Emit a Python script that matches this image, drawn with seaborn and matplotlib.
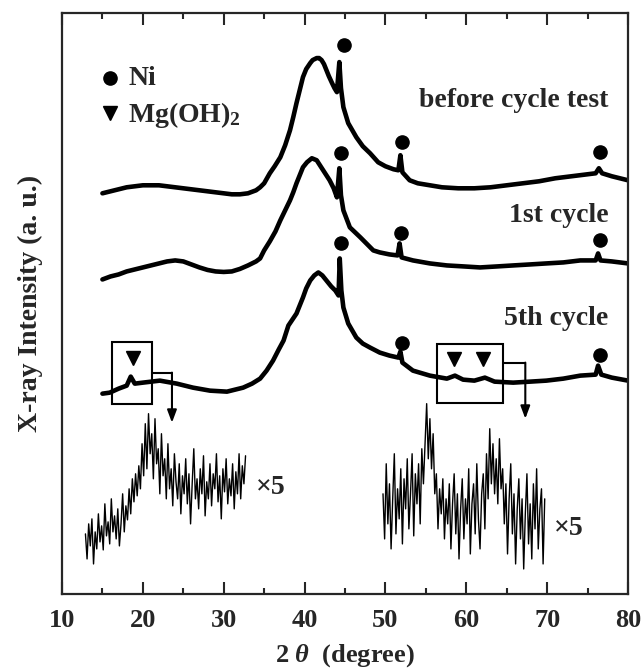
import numpy as np
import pandas as pd
import matplotlib
matplotlib.use("Agg")
import matplotlib.pyplot as plt
import seaborn as sns
from matplotlib.patches import Rectangle

# ---------------- data (2theta in degree, intensity in a.u.) ----------------
tt_before = [15, 16, 17, 18, 19, 20, 21, 22, 23, 24, 25, 26, 27, 28, 29, 30, 31, 32, 33, 34,
             34.5, 35.0, 35.7, 36.3, 37.0, 37.6, 38.2, 38.6, 39.0, 39.4, 39.8, 40.2, 40.7, 41.0,
             41.5, 41.8, 42.1, 42.4, 42.7, 43.0, 43.4, 43.7, 44.0, 44.3, 44.5,
             44.8, 45.4, 46.4, 47.2, 48.1, 49.1, 50, 51, 51.6, 51.85, 52.1, 53, 54, 55.5, 57, 59, 61,
             63, 65, 67, 69, 71, 73, 75, 76.0, 76.4, 76.8, 78, 80]
I_before = [400, 402, 404, 406, 407, 408, 408, 408, 407, 406, 405, 404, 403, 402, 401, 400, 399, 399, 400, 403,
            406, 410, 420, 427, 436, 448, 463, 476, 490, 503, 516, 524, 530, 533,
            535, 535, 533, 529, 523, 517, 510, 505, 501, 531, 505,
            486, 470, 456, 447, 440, 431, 427, 424, 423, 438, 421, 413, 410, 408, 406, 405, 405,
            406, 408, 410, 412, 415, 417, 419, 420, 425, 420, 417, 413]

tt_1st = [15, 16, 17, 18, 19, 20, 21, 22, 23, 24, 25, 26, 27, 28, 29, 30, 31, 32, 33, 34,
          34.5, 35.0, 35.7, 36.4, 37.0, 37.6, 38.2, 38.6, 39.0, 39.4, 39.8, 40.3, 40.9, 41.5, 41.9,
          42.3, 43.1, 43.6, 44.0, 44.3, 44.5, 44.8, 45.6,
          46.9, 48.5, 49.3, 50.5, 51.5, 51.75, 52.0, 53.4, 55.5, 57.6, 59.7, 61.7, 63.8, 65.8, 67.9,
          69.9, 72, 74.1, 76.0, 76.3, 76.6, 78, 80]
I_1st = [314, 317, 319, 322, 324, 326, 328, 330, 332, 333, 332, 329, 326, 323.5, 322, 321.5, 322, 324.5, 328, 332,
         335, 343, 352, 362, 373, 383, 393, 401, 410, 418, 426, 431, 435, 433, 428,
         423, 413, 405, 396, 425, 398, 383, 366,
         356, 343, 341, 339, 338, 350, 336, 333, 330, 328, 327, 326, 327, 328, 329,
         330, 331, 333, 333, 340, 333, 332, 330]

tt_5th = [15, 15.9, 17, 18, 18.5, 19, 20, 22.1, 24.2, 26.2, 28.3, 30.4, 32.4, 33.5, 34.5, 35.3, 36.1,
          36.8, 37.4, 38.0, 38.5, 39.0, 39.4, 39.8, 40.2, 40.7, 41.2, 41.7, 42.2, 42.7, 43.3, 43.8,
          44.2, 44.35, 44.55, 44.8, 45.4, 46.4, 47.2, 48.1, 49.3, 50.5,
          51.6, 51.85, 52.1, 53.4, 55.5, 57.6, 58.6, 59.6, 61.0, 62.3, 63.5, 65.8, 67.9, 69.9, 72,
          74.1, 76.0, 76.3, 76.7, 78, 80]
I_5th = [200, 201, 205, 208, 217, 210, 211, 213, 210, 206, 203, 202, 206, 210, 215, 223, 233,
         244, 253, 268, 274, 280, 288, 296, 305, 313, 318, 321, 318, 313, 307, 303,
         298, 335, 303, 286, 270, 256, 250, 246, 241, 238,
         236, 242, 231, 223, 218, 215, 218, 214, 213, 216, 212, 211, 212, 213, 215,
         218, 219, 228, 219, 216, 213]

# magnified (x5) portions of the 5th cycle pattern
I_zoom_low = [60, 35, 70, 48, 75, 30, 62, 45, 80, 52, 68,
              44, 90, 58, 72, 50, 95, 62, 78, 55, 85,
              48, 70, 100, 62, 88, 74, 105, 80, 115, 92,
              120, 98, 128, 105, 150, 118, 170, 125, 180, 140,
              160, 115, 175, 130, 145, 100, 160, 118, 135, 95,
              150, 105, 125, 88, 140, 112, 95, 130, 80, 118,
              100, 135, 90, 120, 70, 110, 145, 95, 115, 85,
              125, 100, 138, 78, 112, 95, 130, 88, 120, 105,
              140, 92, 118, 75, 125, 102, 135, 90, 115, 98,
              130, 85, 122, 100, 140, 95, 128, 110, 138]
tt_zoom_low = np.linspace(12.9, 32.7, len(I_zoom_low))

I_zoom_high = [100, 55, 130, 70, 110, 45, 95, 140, 60, 105, 75,
               125, 50, 115, 85, 135, 65, 100, 140, 58, 120,
               90, 130, 70, 145, 110, 150, 190, 135, 175, 125,
               160, 100, 120, 65, 105, 80, 115, 55, 95, 70,
               110, 45, 90, 120, 60, 100, 35, 85, 115, 55,
               95, 70, 125, 40, 90, 110, 60, 130, 75, 45,
               100, 120, 65, 140, 95, 165, 110, 150, 100, 135,
               90, 155, 105, 125, 70, 110, 40, 95, 130, 60,
               100, 30, 85, 115, 55, 95, 25, 80, 120, 50,
               90, 35, 110, 65, 125, 45, 85, 105, 30, 95]
tt_zoom_high = np.linspace(49.7, 69.7, len(I_zoom_high))

# phase markers
ni_tt = [44.9, 52.05, 76.5, 44.5, 51.9, 76.5, 44.5, 52.0, 76.5]
ni_I = [548, 451, 441, 440, 360, 353, 350, 251, 239]
mg_tt = [18.8, 58.5, 62.1]
mg_I = [236, 235, 235]

labels = ["before cycle test", "1st cycle", "5th cycle"]
label_I = [493, 378, 275]

# ---------------- style ----------------
sns.set_style("ticks")
plt.rcParams["font.family"] = ["Liberation Serif", "DejaVu Serif"]
plt.rcParams["font.weight"] = "bold"
plt.rcParams["mathtext.fontset"] = "custom"
plt.rcParams["mathtext.rm"] = "Liberation Serif:bold"
plt.rcParams["mathtext.bf"] = "Liberation Serif:bold"
plt.rcParams["mathtext.it"] = "Liberation Serif:italic"

fig, ax = plt.subplots(figsize=(6.42, 6.72), dpi=100)
fig.subplots_adjust(left=62/642, right=628/642, bottom=1-594/672, top=1-13/672)

traces = pd.concat([
    pd.DataFrame({"tt": tt_before, "I": I_before, "s": labels[0]}),
    pd.DataFrame({"tt": tt_1st, "I": I_1st, "s": labels[1]}),
    pd.DataFrame({"tt": tt_5th, "I": I_5th, "s": labels[2]}),
])
for name, g in traces.groupby("s", sort=False):
    sns.lineplot(data=g, x="tt", y="I", ax=ax, color="black", lw=3.3,
                 estimator=None, sort=False, legend=False)

sns.lineplot(x=tt_zoom_low, y=I_zoom_low, ax=ax, color="black", lw=1.0,
             estimator=None, sort=False)
sns.lineplot(x=tt_zoom_high, y=I_zoom_high, ax=ax, color="black", lw=1.0,
             estimator=None, sort=False)

ax.plot(ni_tt, ni_I, ls="none", marker="o", ms=9.5, color="black")
ax.plot(mg_tt, mg_I, ls="none", marker="v", ms=10, color="black")

# legend
ax.plot([15.9], [515], ls="none", marker="o", ms=9.5, color="black")
ax.plot([15.9], [480], ls="none", marker="v", ms=10, color="black")
ax.text(18.2, 515, "Ni", fontsize=20, fontweight="bold", va="center", ha="left")
ax.text(18.2, 478, r"Mg(OH)$_\mathbf{2}$", fontsize=20, fontweight="bold", va="center", ha="left")

for lab, yy in zip(labels, label_I):
    ax.text(77.6, yy, lab, fontsize=20, fontweight="bold", ha="right", va="center")

ax.text(34.0, 106, "×5", fontsize=20, fontweight="bold", ha="left", va="center")
ax.text(70.9, 65, "×5", fontsize=20, fontweight="bold", ha="left", va="center")

# boxes and arrows
ax.add_patch(Rectangle((16.2, 190), 4.9, 62, fill=False, lw=1.5, ec="black"))
ax.add_patch(Rectangle((56.4, 191), 8.2, 59, fill=False, lw=1.5, ec="black"))
ax.plot([21.1, 23.6], [221, 221], color="black", lw=1.5)
ax.plot([64.6, 67.3], [231, 231], color="black", lw=1.5)
arrow = dict(arrowstyle="-|>,head_length=0.75,head_width=0.28", lw=1.5, color="black",
             shrinkA=0, shrinkB=0, mutation_scale=10)
ax.annotate("", xy=(23.6, 171), xytext=(23.6, 221), arrowprops=arrow)
ax.annotate("", xy=(67.3, 175), xytext=(67.3, 231), arrowprops=arrow)

# axes
ax.set_xlim(10, 80)
ax.set_ylim(0, 580)
ax.set_xticks(range(10, 81, 10))
ax.set_xticks(range(15, 80, 10), minor=True)
ax.set_yticks([])
ax.tick_params(axis="x", which="both", direction="in", top=True, bottom=True,
               width=1.5, labelsize=19, pad=11)
ax.tick_params(axis="x", which="major", length=8.5)
ax.tick_params(axis="x", which="minor", length=4.3)
for lbl in ax.get_xticklabels():
    lbl.set_fontweight("bold")
for sp in ax.spines.values():
    sp.set_linewidth(1.6)
    sp.set_visible(True)

ax.set_xlabel(r"2 $\theta$  (degree)", fontsize=19, fontweight="bold", labelpad=7)
ax.set_ylabel("X-ray Intensity (a. u.)", fontsize=20, fontweight="bold", labelpad=14)

fig.savefig("out.png", dpi=100)
